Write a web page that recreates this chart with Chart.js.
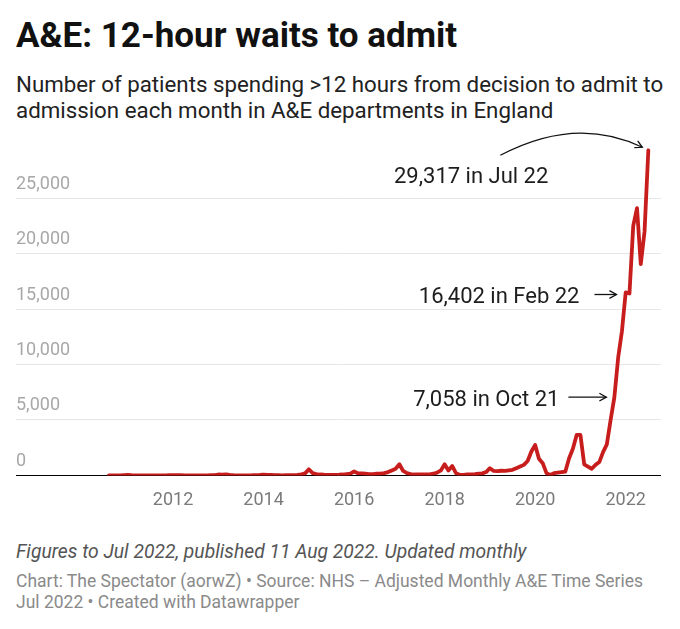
<!DOCTYPE html>
<html>
<head>
<meta charset="utf-8">
<title>A&amp;E: 12-hour waits to admit</title>
<script src="https://cdn.jsdelivr.net/npm/chart.js@4/dist/chart.umd.min.js"></script>
<style>
  html, body { margin: 0; padding: 0; background: #fff; }
  body { width: 680px; height: 629px; position: relative; overflow: hidden; font-family: Roboto, "Noto Sans", sans-serif; }
  .title { position: absolute; left: 16px; top: 17px; font-size: 35px; line-height: 38px; font-weight: 700; color: #111; margin: 0; white-space: nowrap; }
  .subtitle { position: absolute; left: 16px; top: 72px; width: 660px; font-size: 22.3px; line-height: 25.6px; color: #222; }
  #chart-wrap { position: absolute; left: 0; top: 130px; width: 680px; height: 387px; }
  .notes { position: absolute; left: 16px; top: 541px; font-size: 19.3px; line-height: 22px; font-style: italic; color: #555; white-space: nowrap; }
  .source { position: absolute; left: 16px; top: 571px; font-size: 17.5px; line-height: 21px; color: #8a8a8a; width: 650px; }
</style>
</head>
<body>
  <div class="title">A&amp;E: 12-hour waits to admit</div>
  <div class="subtitle">Number of patients spending &gt;12 hours from decision to admit to admission each month in A&amp;E departments in England</div>
  <div id="chart-wrap"><canvas id="waits-chart" width="680" height="387"></canvas></div>
  <div class="notes">Figures to Jul 2022, published 11 Aug 2022. Updated monthly</div>
  <div class="source">Chart: The Spectator (aorwZ) • Source: NHS – Adjusted Monthly A&amp;E Time Series Jul 2022 • Created with Datawrapper</div>

<script>
// --- data: monthly 12-hour trolley waits, Aug 2010 to Jul 2022 ---
const firstYear = 2010;
const firstMonth = 8; // August

const waits2010 = [2, 3, 5, 10, 25];
const waits2011 = [35, 15, 10, 5, 3, 2, 3, 2, 4, 6, 10, 15];
const waits2012 = [25, 20, 30, 10, 5, 4, 3, 3, 5, 10, 20, 30];
const waits2013 = [80, 70, 100, 50, 20, 10, 5, 5, 10, 15, 30, 40];
const waits2014 = [70, 50, 40, 30, 20, 10, 15, 15, 20, 40, 100, 180];
const waits2015 = [550, 200, 120, 80, 60, 50, 50, 50, 60, 80, 120, 160];
const waits2016 = [350, 200, 180, 150, 120, 120, 150, 150, 200, 300, 450, 600];
const waits2017 = [1000, 400, 200, 120, 80, 80, 90, 80, 100, 150, 250, 450];
const waits2018 = [1000, 450, 850, 200, 60, 50, 80, 100, 120, 150, 180, 300];
const waits2019 = [650, 400, 380, 420, 400, 450, 500, 650, 800, 950, 1300, 2150];
const waits2020 = [2750, 1500, 1100, 200, 30, 200, 250, 300, 350, 1550, 2400, 3650];
const waits2021 = [3650, 1000, 800, 600, 950, 1200, 2100, 2800, 5000, 7058, 10600, 13000];
const waits2022 = [16500, 16402, 22500, 24100, 19050, 22000, 29317];

const yearTicks = [2012, 2014, 2016, 2018, 2020, 2022];
const valueTicks = [0, 5000, 10000, 15000, 20000, 25000];

// highlighted months and their callouts
const noteMonths = ['Oct 21', 'Feb 22', 'Jul 22'];

const waits = [].concat(waits2010, waits2011, waits2012, waits2013, waits2014, waits2015,
  waits2016, waits2017, waits2018, waits2019, waits2020, waits2021, waits2022);

const monthNames = ['Jan', 'Feb', 'Mar', 'Apr', 'May', 'Jun', 'Jul', 'Aug', 'Sep', 'Oct', 'Nov', 'Dec'];
const monthLabels = waits.map((_, i) => {
  const m = firstMonth - 1 + i;
  const y = firstYear + Math.floor(m / 12);
  return monthNames[m % 12] + ' ' + String(y).slice(2);
});
const points = waits.map((v, i) => ({ x: firstYear + (firstMonth - 1 + i) / 12, y: v }));

const RED = '#c71e1d';

// draws the three callouts next to their data points
const calloutPlugin = {
  id: 'callouts',
  afterDatasetsDraw(chart) {
    const { ctx } = chart;
    const meta = chart.getDatasetMeta(0);
    const pt = label => meta.data[monthLabels.indexOf(label)];
    const fmt = label => waits[monthLabels.indexOf(label)].toLocaleString('en-US') + ' in ' + label;

    ctx.save();
    ctx.font = '22px Roboto';
    ctx.fillStyle = '#1d1d1d';
    ctx.strokeStyle = '#111';
    ctx.lineWidth = 1.3;
    ctx.textAlign = 'right';
    ctx.textBaseline = 'alphabetic';

    const arrowHead = (x, y, ang) => {
      const len = 8;
      ctx.beginPath();
      ctx.moveTo(x - len * Math.cos(ang - 0.5), y - len * Math.sin(ang - 0.5));
      ctx.lineTo(x, y);
      ctx.lineTo(x - len * Math.cos(ang + 0.5), y - len * Math.sin(ang + 0.5));
      ctx.stroke();
    };

    // Oct 21
    let p = pt(noteMonths[0]);
    ctx.fillText(fmt(noteMonths[0]), p.x - 55, p.y + 9);
    ctx.beginPath();
    ctx.moveTo(p.x - 46, p.y);
    ctx.lineTo(p.x - 8, p.y);
    ctx.stroke();
    arrowHead(p.x - 8, p.y, 0);

    // Feb 22
    p = pt(noteMonths[1]);
    ctx.fillText(fmt(noteMonths[1]), p.x - 50, p.y + 9);
    ctx.beginPath();
    ctx.moveTo(p.x - 35, p.y + 1);
    ctx.lineTo(p.x - 13, p.y + 1);
    ctx.stroke();
    arrowHead(p.x - 13, p.y + 1, 0);

    // Jul 22 with curved arrow
    p = pt(noteMonths[2]);
    ctx.fillText(fmt(noteMonths[2]), p.x - 100, p.y + 33);
    const sx = p.x - 148, sy = p.y + 5;
    const cx = p.x - 72, cy = p.y - 35;
    const ex = p.x - 6, ey = p.y - 3;
    ctx.beginPath();
    ctx.moveTo(sx, sy);
    ctx.quadraticCurveTo(cx, cy, ex, ey);
    ctx.stroke();
    arrowHead(ex, ey, Math.atan2(ey - cy, ex - cx));
    ctx.restore();
  }
};

new Chart(document.getElementById('waits-chart'), {
  type: 'line',
  data: {
    datasets: [{
      label: '12-hour waits',
      data: points,
      borderColor: RED,
      borderWidth: 3.8,
      borderJoinStyle: 'round',
      borderCapStyle: 'round',
      pointRadius: 0,
      tension: 0,
      fill: false
    }]
  },
  options: {
    responsive: false,
    devicePixelRatio: 1,
    animation: false,
    layout: { padding: { left: 16, right: 19, top: 12.7, bottom: 0 } },
    plugins: { legend: { display: false }, tooltip: { enabled: false } },
    scales: {
      x: {
        type: 'linear',
        min: 2008.53,
        max: 2022.78,
        afterBuildTicks: scale => { scale.ticks = yearTicks.map(v => ({ value: v })); },
        grid: { display: false },
        border: { display: false },
        ticks: {
          padding: 6,
          color: '#7a7a7a',
          font: { family: 'Roboto', size: 18 },
          maxRotation: 0,
          autoSkip: false,
          callback: v => String(v)
        }
      },
      y: {
        min: 0,
        max: 30000,
        afterBuildTicks: scale => { scale.ticks = valueTicks.map(v => ({ value: v })); },
        border: { display: false },
        grid: {
          drawTicks: false,
          color: c => (c.tick && c.tick.value === 0) ? '#000' : '#e6e6e6',
          lineWidth: 1
        },
        ticks: {
          mirror: true,
          padding: 0,
          labelOffset: -14,
          color: '#a8a8a8',
          font: { family: 'Roboto', size: 18 },
          callback: v => v.toLocaleString('en-US')
        }
      }
    }
  },
  plugins: [calloutPlugin]
});
</script>
</body>
</html>
